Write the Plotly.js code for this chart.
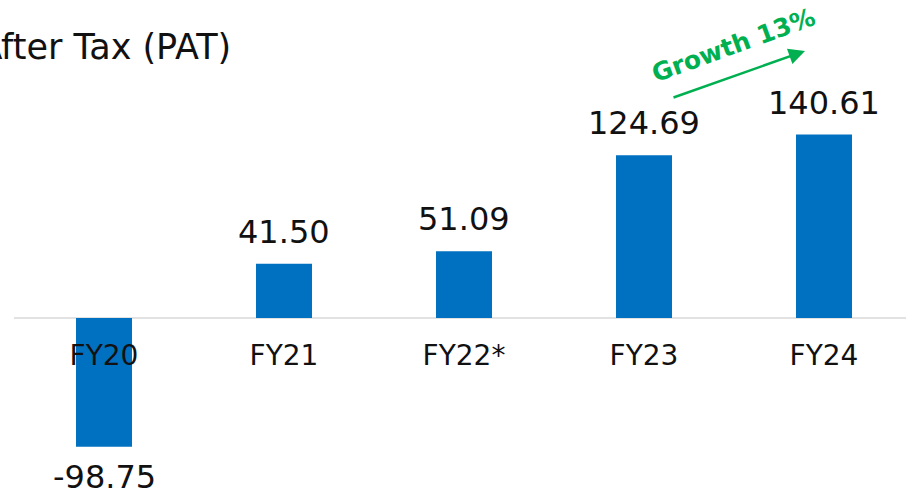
<!DOCTYPE html>
<html>
<head>
<meta charset="utf-8">
<script src="https://cdn.plot.ly/plotly-3.0.1.min.js"></script>
<style>html,body{margin:0;padding:0;background:#fff;}#chart{width:906px;height:501px;}</style>
</head>
<body>
<div id="chart"></div>
<script>
const categories = ["FY20", "FY21", "FY22*", "FY23", "FY24"];
const patValues = [-98.75, 41.50, 51.09, 124.69, 140.61];
const valueLabels = ["-98.75", "41.50", "51.09", "124.69", "140.61"];
const chartTitle = "Profit After Tax (PAT)";
const growthLabel = "Growth 13%";

const FONT = "'DejaVu Sans', sans-serif";
const BLUE = "#0070c0";
const GREEN = "#00b050";
const TEXT = "#111";

const annotations = [];
categories.forEach((c, i) => {
  const v = patValues[i];
  annotations.push({
    x: c, y: v, xref: "x", yref: "y",
    text: valueLabels[i], showarrow: false,
    yanchor: v >= 0 ? "bottom" : "top",
    yshift: v >= 0 ? 11 : -9,
    font: {family: FONT, size: 32, color: TEXT}
  });
});
annotations.push({
  xref: "paper", yref: "paper", x: 233/906, y: 1 - 47/501,
  xanchor: "right", yanchor: "middle",
  text: chartTitle, showarrow: false,
  font: {family: FONT, size: 35, color: TEXT}
});
annotations.push({
  xref: "paper", yref: "paper", x: 733/906, y: 1 - 46/501,
  xanchor: "center", yanchor: "middle",
  text: "<b>" + growthLabel + "</b>", showarrow: false, textangle: -20,
  font: {family: FONT, size: 25, color: GREEN}
});
annotations.push({
  xref: "paper", yref: "paper", x: 805/906, y: 1 - 51/501,
  axref: "pixel", ayref: "pixel", ax: -133, ay: 47,
  text: "", showarrow: true, arrowhead: 2, arrowsize: 1.3, arrowwidth: 2.5,
  arrowcolor: GREEN
});

const data = [{
  type: "bar",
  x: categories,
  y: patValues,
  marker: {color: BLUE},
  hoverinfo: "none",
  cliponaxis: false
}];

const layout = {
  width: 906, height: 501,
  margin: {l: 0, r: 0, t: 0, b: 0},
  paper_bgcolor: "#fff", plot_bgcolor: "#fff",
  showlegend: false,
  bargap: 0.689,
  xaxis: {
    type: "category",
    range: [-104/180, (906-104)/180],
    showgrid: false, zeroline: false, showline: false, ticks: "",
    anchor: "free", position: (501-318)/501,
    tickfont: {family: FONT, size: 28, color: TEXT},
    ticklabelstandoff: 18,
    fixedrange: true
  },
  yaxis: {
    range: [-(501-318)/1.305, 318/1.305],
    showgrid: false, zeroline: false, showticklabels: false, showline: false, ticks: "",
    fixedrange: true
  },
  shapes: [{
    type: "line", xref: "x", yref: "y", x0: -0.5, x1: (906-104)/180, y0: 0, y1: 0,
    line: {color: "#d9d9d9", width: 1.5}, layer: "below"
  }],
  annotations: annotations
};

Plotly.newPlot("chart", data, layout, {staticPlot: true, displayModeBar: false});
</script>
</body>
</html>
